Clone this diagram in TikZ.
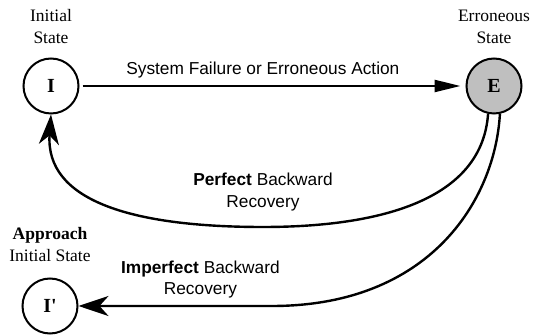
\documentclass[tikz,border=0pt]{standalone}
\usepackage{fontspec}
\setmainfont{Liberation Serif}
\setsansfont{Liberation Sans}
\usepackage{tikz}
\usetikzlibrary{arrows.meta,positioning}
\definecolor{errgray}{gray}{0.75}
\tikzset{
  st/.style={circle, draw, line width=2pt, minimum size=55pt, inner sep=0pt,
    font=\fontsize{20}{20}\selectfont\bfseries},
  toplbl/.style={align=center, inner sep=0pt, font=\fontsize{17.5}{22}\selectfont},
  edgelbl/.style={align=center, inner sep=0pt, font=\sffamily\fontsize{17.3}{21.5}\selectfont},
  link/.style={line width=2.4pt},
}
\begin{document}
\begin{tikzpicture}[x=1pt,y=-1pt]
\useasboundingbox (0,0) rectangle (539,336);
% states
\node[st] (I) at (51,86) {I};
\node[st, fill=errgray] (E) at (494,86) {E};
\node[st] (Ip) at (50,306) {I\textquotesingle};

\node[toplbl, above=14pt of I] (Ilbl) {Initial\\State};
\node[toplbl, above=14pt of E] (Elbl) {Erroneous\\State};
\node[toplbl, above=16pt of Ip] (Iplbl) {\textbf{Approach}\\Initial State};

% failure
\draw[link, -{Triangle[length=26pt,width=12pt]}, shorten <=3pt, shorten >=5pt]
  (I) -- node[edgelbl, above=7pt, pos=0.475] {System Failure or Erroneous Action} (E);

% recovery
\draw[link, -{Stealth[length=30pt,width=20pt,inset=9pt]}]
  (E.-102) .. controls (482,200) and (380,227) .. (263,227)
  node[edgelbl, above=15pt] {\textbf{Perfect} Backward\\Recovery}
  .. controls (130,227) and (45,200) .. (I.south);
\draw[link, -{Stealth[length=30pt,width=20pt,inset=9pt]}]
  (E.-78) .. controls (495,200) and (430,306) .. (272,306)
  -- node[edgelbl, above=6.5pt, pos=0.37] {\textbf{Imperfect}\ Backward\\Recovery} (Ip);
\end{tikzpicture}
\end{document}
